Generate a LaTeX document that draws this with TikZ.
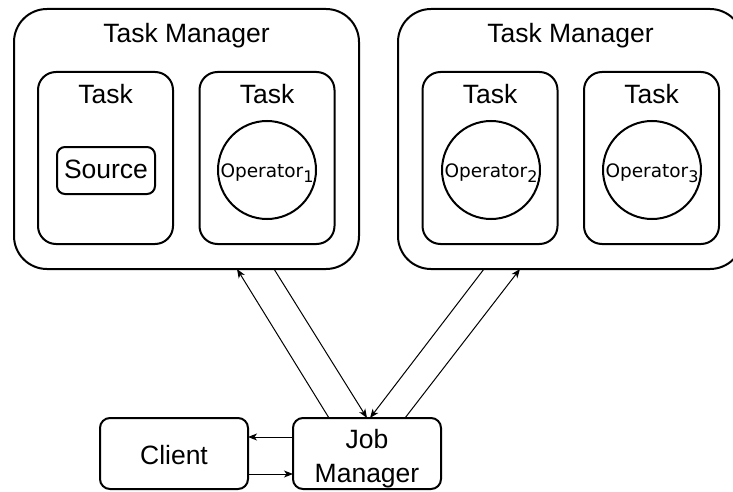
\documentclass[tikz,border=0pt]{standalone}
\usepackage{fontspec}
\setmainfont{Liberation Sans}
\newfontfamily\opfont{DejaVu Sans}
\usetikzlibrary{arrows.meta}
\begin{document}
\begin{tikzpicture}[x=1pt,y=-1pt,
  box/.style={draw, line width=2pt, inner sep=0pt, outer sep=0pt},
  tmbox/.style={box, rounded corners=33pt, minimum width=345pt, minimum height=260pt},
  taskbox/.style={box, rounded corners=18pt, minimum width=135pt, minimum height=172pt},
  srcbox/.style={box, rounded corners=8pt, minimum width=98pt, minimum height=47pt},
  opcirc/.style={box, circle, minimum size=98pt},
  bottombox/.style={box, rounded corners=10pt, minimum width=148pt, minimum height=71pt},
  lbl/.style={anchor=base, inner sep=0pt, font=\fontsize{26.5}{30}\selectfont},
  oplbl/.style={anchor=base, inner sep=0pt, font=\opfont\fontsize{18.5}{20}\selectfont},
  conn/.style={line width=1pt, -{Stealth[length=9pt,width=7pt,inset=2.5pt]}}
]
\useasboundingbox (0,0) rectangle (733,492);
\clip (0,0) rectangle (733,492);

% Task managers
\node[tmbox] (tm1) at (186.5,139) {};
\node[tmbox] (tm2) at (570.5,139) {};
\node[lbl] (tm1l) at (186.5,43) {Task Manager};
\node[lbl] (tm2l) at (570.5,43) {Task Manager};

% Tasks
\node[taskbox] (t1) at (105.5,158) {};
\node[taskbox] (t2) at (267,158) {};
\node[taskbox] (t3) at (490,158) {};
\node[taskbox] (t4) at (651.5,158) {};
\node[lbl] (t1l) at (105.5,103) {Task};
\node[lbl] (t2l) at (267,103) {Task};
\node[lbl] (t3l) at (490,103) {Task};
\node[lbl] (t4l) at (651.5,103) {Task};

% Source and operators
\node[srcbox] (src) at (106,170.5) {};
\node[lbl] (srcl) at (106,178.5) {Source};
\node[opcirc] (op1) at (267,170) {};
\node[opcirc] (op2) at (491,170) {};
\node[opcirc] (op3) at (652,170) {};
\node[oplbl] (op1l) at (267,177) {Operator\raisebox{-5pt}{\fontsize{16}{16}\selectfont 1}};
\node[oplbl] (op2l) at (491,177) {Operator\raisebox{-5pt}{\fontsize{16}{16}\selectfont 2}};
\node[oplbl] (op3l) at (652,177) {Operator\raisebox{-5pt}{\fontsize{16}{16}\selectfont 3}};

% Client and Job Manager
\node[bottombox] (client) at (174,453.5) {};
\node[bottombox] (jm) at (367,453.5) {};
\node[lbl] (clientl) at (174,464) {Client};
\node[lbl] (jml1) at (367,448) {Job};
\node[lbl] (jml2) at (367,482) {Manager};

% Connectors
\draw[conn] ([xshift=-38pt]jm.north) -- ([xshift=50.5pt]tm1.south);
\draw[conn] ([xshift=87.5pt]tm1.south) -- ([xshift=0pt]jm.north);
\draw[conn] ([xshift=-86.5pt]tm2.south) -- ([xshift=3pt]jm.north);
\draw[conn] ([xshift=38pt]jm.north) -- ([xshift=-50.5pt]tm2.south);
\draw[conn] ([yshift=16.5pt]jm.west) -- ([yshift=16.5pt]client.east);
\draw[conn] ([yshift=-20.5pt]client.east) -- ([yshift=-20.5pt]jm.west);
\end{tikzpicture}
\end{document}
